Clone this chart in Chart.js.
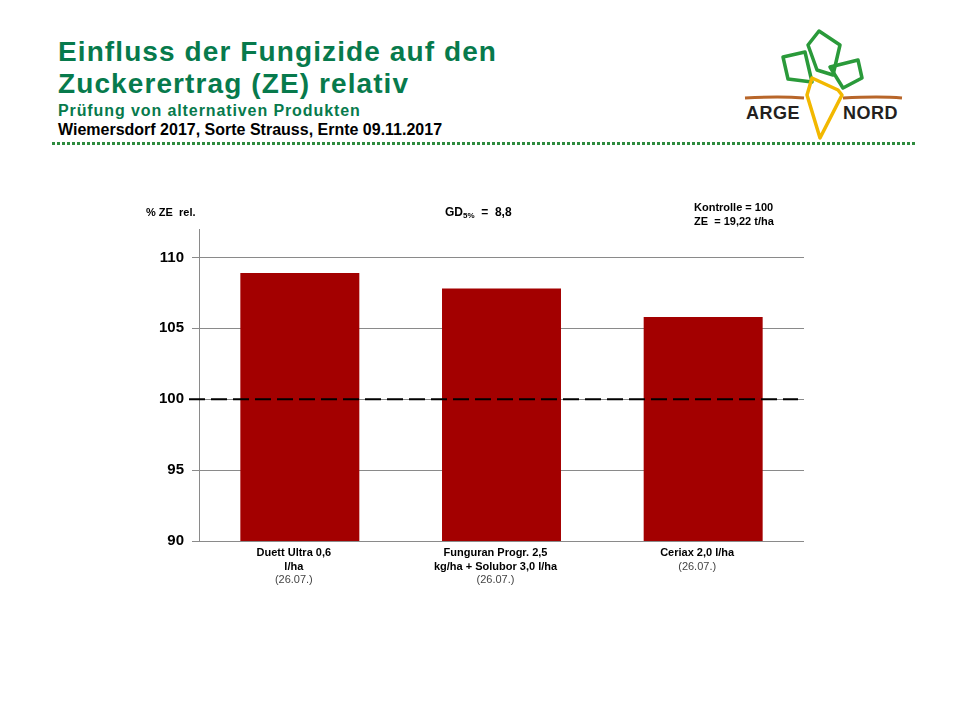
<!DOCTYPE html>
<html>
<head>
<meta charset="utf-8">
<script src="https://cdn.jsdelivr.net/npm/chart.js@4.4.1/dist/chart.umd.min.js"></script>
<style>
  html, body { margin: 0; padding: 0; background: #fff; }
  body { width: 960px; height: 720px; position: relative; overflow: hidden; font-family: "Liberation Sans", Arial, sans-serif; }
  #chart { position: absolute; left: 0; top: 0; }
  .t { position: absolute; white-space: nowrap; font-weight: bold; }
  #title { left: 58px; top: 36px; font-size: 28px; line-height: 32px; color: #077a4c; letter-spacing: 1.1px; }
  #sub { left: 58px; top: 102px; font-size: 16px; color: #077a4c; letter-spacing: 0.9px; }
  #place { left: 58px; top: 121px; font-size: 16px; color: #000; }
  #dots { position: absolute; left: 52px; top: 142px; width: 864px; height: 3px;
          background-image: linear-gradient(to right, #2e8b3e 60%, transparent 60%); background-size: 5px 3px; }
  #logo { position: absolute; left: 740px; top: 25px; }
</style>
</head>
<body>
<div class="t" id="title">Einfluss der Fungizide auf den<br>Zuckerertrag (ZE) relativ</div>
<div class="t" id="sub">Prüfung von alternativen Produkten</div>
<div class="t" id="place">Wiemersdorf 2017, Sorte Strauss, Ernte 09.11.2017</div>
<div id="dots"></div>
<svg id="logo" width="170" height="120" viewBox="0 0 170 120">
  <g fill="none" stroke="#2a9a3a" stroke-width="3.5" stroke-linejoin="round">
    <path d="M43 32 L65 27 L72 57 L48 54 Z"/>
    <path d="M68 20 L79 6 L100 20 L93 50 L77 45 Z"/>
    <path d="M90 42 L118 35 L122 53 L103 63 Z"/>
  </g>
  <path d="M5 73 Q40 71 64 73 M103 73 Q140 71 162 73" stroke="#b8662a" stroke-width="3" fill="none"/>
  <path d="M72 53 L98 65 L102 70 L80 113 L67 70 Z" fill="none" stroke="#f2b800" stroke-width="3.5" stroke-linejoin="round"/>
  <text x="6" y="94" font-family="Liberation Sans, Arial" font-weight="bold" font-size="18" letter-spacing="0.5" fill="#231f20">ARGE</text>
  <text x="103" y="94" font-family="Liberation Sans, Arial" font-weight="bold" font-size="18" letter-spacing="0.5" fill="#231f20">NORD</text>
</svg>
<canvas id="chart" width="960" height="720"></canvas>
<script>
// chart data
const categories = [
    ['Duett Ultra 0,6', 'l/ha'],
    ['Funguran Progr. 2,5', 'kg/ha + Solubor 3,0 l/ha'],
    ['Ceriax 2,0 l/ha']
];
const dates = ['(26.07.)', '(26.07.)', '(26.07.)'];
const values = [108.9, 107.8, 105.8];
const yTicks = [90, 95, 100, 105, 110];
const controlLevel = 100;

const font = '"Liberation Sans", Arial, sans-serif';

// category labels, dates, header texts and dashed control line
const extras = {
    id: 'extras',
    afterDatasetsDraw(chart) {
        const ctx = chart.ctx;
        const area = chart.chartArea;
        const y = chart.scales.y;
        const x = chart.scales.x;

        // dashed control line at 100
        const yp = y.getPixelForValue(controlLevel);
        ctx.save();
        ctx.strokeStyle = '#000';
        ctx.lineWidth = 2;
        ctx.setLineDash([16, 6]);
        ctx.beginPath();
        ctx.moveTo(area.left - 10, yp);
        ctx.lineTo(area.right - 6, yp);
        ctx.stroke();
        ctx.restore();

        // category labels (bold) + dates below
        ctx.save();
        ctx.textAlign = 'center';
        ctx.textBaseline = 'middle';
        categories.forEach((lines, i) => {
            const cx = x.getPixelForTick(i) - 6;
            const top = area.bottom + 12;
            ctx.font = 'bold 11px ' + font;
            ctx.fillStyle = '#000';
            lines.forEach((l, j) => ctx.fillText(l, cx, top + j * 13.5));
            ctx.font = '11px ' + font;
            ctx.fillStyle = '#444';
            ctx.fillText(dates[i], cx, top + lines.length * 13.5);
        });

        // header texts
        ctx.fillStyle = '#000';
        ctx.font = 'bold 11px ' + font;
        ctx.textAlign = 'left';
        ctx.fillText('% ZE  rel.', 146, 213);
        ctx.fillText('Kontrolle = 100', 694, 208);
        ctx.fillText('ZE  = 19,22 t/ha', 694, 222);
        ctx.font = 'bold 12px ' + font;
        ctx.fillText('GD', 445, 213);
        let w = ctx.measureText('GD').width;
        ctx.font = 'bold 8px ' + font;
        ctx.fillText('5%', 445 + w, 216);
        w += ctx.measureText('5%').width;
        ctx.font = 'bold 12px ' + font;
        ctx.fillText('  =  8,8', 445 + w, 213);
        ctx.restore();
    }
};

new Chart(document.getElementById('chart'), {
    type: 'bar',
    data: {
        labels: categories,
        datasets: [{
            data: values,
            backgroundColor: '#a30000',
            categoryPercentage: 1,
            barPercentage: 0.59
        }]
    },
    options: {
        responsive: false,
        animation: false,
        devicePixelRatio: 1,
        layout: { padding: { left: 0, right: 156, top: 229, bottom: 119 } },
        plugins: { legend: { display: false }, tooltip: { enabled: false } },
        scales: {
            x: {
                grid: { display: false },
                border: { display: false },
                ticks: { display: false },
                afterFit: (s) => { s.height = 60; }
            },
            y: {
                min: 90,
                max: 112,
                afterFit: (s) => { s.width = 199; },
                afterBuildTicks: (s) => { s.ticks = yTicks.map(v => ({ value: v })); },
                grid: { color: '#8a8a8a', lineWidth: 1, tickLength: 7 },
                border: { color: '#8a8a8a', width: 1 },
                ticks: {
                    color: '#000',
                    padding: 8,
                    font: { family: font, size: 15, weight: 'bold' }
                }
            }
        }
    },
    plugins: [extras]
});
</script>
</body>
</html>
